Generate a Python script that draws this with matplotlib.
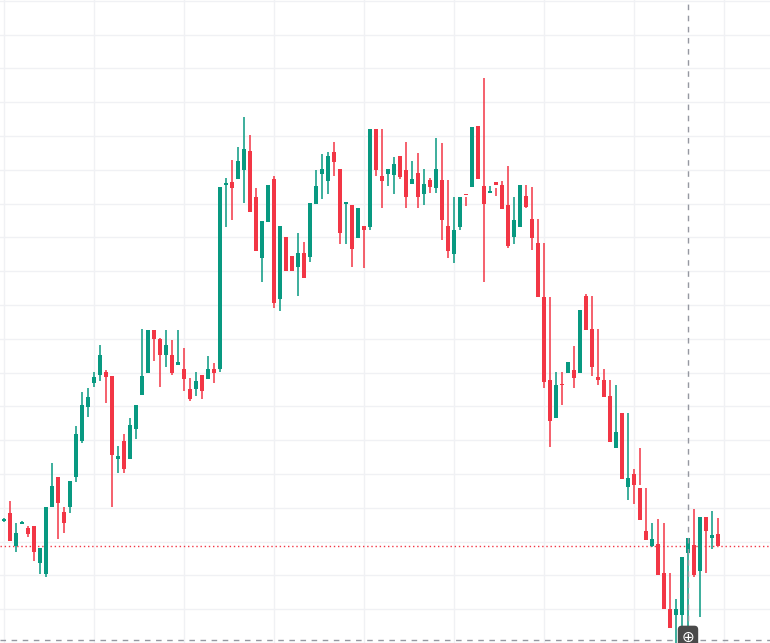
import matplotlib
matplotlib.use("Agg")
import matplotlib.pyplot as plt
import numpy as np

# price values (screen units, higher = up), index = candle number
Y = 643
opens_px = [523,520,513,546,523,528,526,563,574,507,477,512,507,477,441,407,383,375,372,376,459,441,459,429,395,373,330,339,355,355,365,369,389,389,375,379,369,369,
            184,182,179,170,151,197,258,222,179,299,237,256,267,253,257,204,174,181,152,169,203,205,238,226,227,129,176,174,175,156,170,184,173,194,180,188,180,226,254,227,194,187,126,186,192,
            181.5,185,205,237,227,196,219,243,297,380,418,384,373,370,373,296,329,377,380,396,448,413,487,474,488,531,546,544,573,609,615,615,553,545,571,517,538,534]
highs_px = [500,518,501,523,521,526,526,548,507,463,477,507,481,426,392,388,372,345,370,376,446,434,418,405,329,330,330,338,330,340,330,348,378,372,375,356,363,362,
            178,160,147,117,135,188,221,185,176,226,237,256,233,242,203,170,154,152,142,169,203,205,208,226,227,129,129,174,157,157,142,161,153,169,178,138,143,180,197,230,197,184,127,78,186,188,
            181,166,197,220,185,187,219,243,297,372,372,364,346,370,294,296,329,369,380,385,432,413,469,448,488,523,519,523,573,599,594,544,509,545,517,511,518,523]
lows_px = [526,522,541,552,524,537,561,574,577,507,539,533,513,482,443,417,387,381,403,507,473,473,459,439,395,373,361,387,367,375,365,391,401,396,399,379,383,372,
            227,220,179,203,212,251,282,222,308,311,271,271,296,278,262,204,199,194,176,244,244,267,238,268,230,176,208,186,194,179,208,184,208,205,193,193,240,258,263,227,206,187,179,282,192,
            196,208,248,244,227,208,250,297,388,447,418,405,373,388,373,330,376,385,397,422,442,471,500,504,485,540,547,547,595,612,644,640,640,577,617,573,549,544,551]
closes_px = [522,520,541,533,523,534,552,548,507,486,503,523,481,434,405,397,377,355,377,455,456,469,425,405,376,330,339,355,345,373,362,379,399,381,391,369,373,187,
            184,188,161,149,212,251,221,185,303,226,271,271,253,278,203,186,169,156,162,233,203,249,208,230,129,170,181,169,164,177,197,179,197,184,187,169,220,251,230,197,194.5,127,179,204,192,
            185,208.6,246,220,185,207,238,297,382,421,385,384.5,362,378,310,330,367,380,397,442,432,479,478,485,520,540,539,575,609,628,609,557,538,575,517,531,535,546]

opens = [Y - v for v in opens_px]
highs = [Y - v for v in highs_px]
lows = [Y - v for v in lows_px]
closes = [Y - v for v in closes_px]

UP = "#089981"
DOWN = "#f23645"

fig = plt.figure(figsize=(7.70, 6.43), dpi=100)
ax = fig.add_axes([0, 0, 1, 1])
ax.set_facecolor("white")

n = len(opens)
idx = np.arange(n)
for i in idx:
    o, h, l, c = opens[i], highs[i], lows[i], closes[i]
    col = UP if c >= o else DOWN
    ax.vlines(i, l, h, color=col, linewidth=1.1, zorder=3)
    body = max(abs(c - o), 1.2)
    ax.bar(i, body, bottom=min(o, c) - (0.6 if abs(c - o) < 1.2 else 0), width=0.82,
           color=col, edgecolor=col, linewidth=0, zorder=4)

ax.set_xlim((0 + 2) / 6, (770 + 2) / 6)
ax.set_ylim(0, 643)

for gx in np.arange(4, 770, 90):
    ax.axvline((gx + 2) / 6, color="#f0f1f4", linewidth=1, zorder=0)
for gy in np.arange(305 - 33.8 * 9, 643, 33.8):
    ax.axhline(Y - gy, color="#f0f1f4", linewidth=1, zorder=0)

ax.axhline(Y - 546, color=DOWN, linewidth=1, linestyle=(0, (1, 2)), zorder=2)
ax.axvline((688 + 2) / 6, color="#9598a1", linewidth=1, linestyle=(0, (4, 4)), zorder=5)
ax.axhline(Y - 640, color="#9598a1", linewidth=1, linestyle=(0, (4, 4)), zorder=5)
ax.text((688 + 2) / 6, Y - 637, "⊕", ha="center", va="center", color="white", fontsize=11,
        bbox=dict(boxstyle="round,pad=0.25", fc="#4a4a4a", ec="none"), zorder=6)

ax.set_xticks([])
ax.set_yticks([])
for s in ax.spines.values():
    s.set_visible(False)

fig.savefig("out.png", dpi=100)
